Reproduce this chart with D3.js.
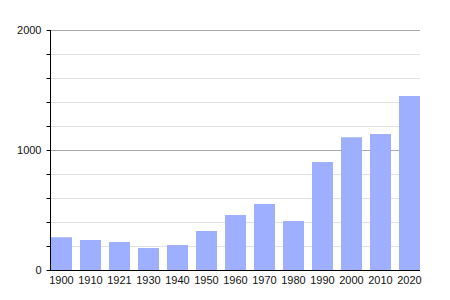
<!DOCTYPE html>
<html>
<head>
<meta charset="utf-8">
<script src="https://cdn.jsdelivr.net/npm/d3@7"></script>
<style>
	body { margin: 0; background: #fff; }
	svg { display: block; font-family: "Liberation Sans", Arial, sans-serif; }
</style>
</head>
<body>
<svg id="chart"></svg>
<script>
const years = ["1900", "1910", "1921", "1930", "1940", "1950", "1960", "1970", "1980", "1990", "2000", "2010", "2020"];
const population = [273, 250, 233, 183, 208, 325, 458, 550, 408, 900, 1106, 1133, 1450];
const majorTicks = [0, 1000, 2000];
const minorTicks = [200, 400, 600, 800, 1200, 1400, 1600, 1800];

const width = 450;
const height = 300;
const plotLeft = 50;
const plotRight = 420;
const plotTop = 30;
const plotBottom = 270;

const svg = d3.select("#chart")
	.attr("width", width)
	.attr("height", height);

const x = d3.scaleBand()
	.domain(years)
	.range([plotLeft + 1, plotRight])
	.paddingInner(0.276)
	.paddingOuter(0);

const y = d3.scaleLinear()
	.domain([0, 2000])
	.range([plotBottom, plotTop]);

// grid
svg.append("g")
	.selectAll("line")
	.data(minorTicks)
	.join("line")
	.attr("x1", plotLeft)
	.attr("x2", plotRight)
	.attr("y1", d => y(d) + 0.5)
	.attr("y2", d => y(d) + 0.5)
	.attr("stroke", "#e2e2e2");

svg.append("g")
	.selectAll("line")
	.data(majorTicks.filter(d => d > 0))
	.join("line")
	.attr("x1", plotLeft)
	.attr("x2", plotRight)
	.attr("y1", d => y(d) + 0.5)
	.attr("y2", d => y(d) + 0.5)
	.attr("stroke", "#aaaaaa");

// bars
svg.append("g")
	.selectAll("rect")
	.data(population)
	.join("rect")
	.attr("x", (d, i) => x(years[i]))
	.attr("y", d => y(d))
	.attr("width", x.bandwidth())
	.attr("height", d => plotBottom - y(d))
	.attr("fill", "#9eafff");

// y axis
const yAxis = svg.append("g")
	.attr("transform", `translate(${plotLeft + 0.5},0)`)
	.call(d3.axisLeft(y)
		.tickValues(majorTicks.concat(minorTicks))
		.tickSize(4)
		.tickFormat(d => majorTicks.includes(d) ? d : ""));

yAxis.select(".domain").attr("stroke", "#000").attr("d", `M0,${plotTop}V${plotBottom}`);
yAxis.selectAll(".tick line").attr("stroke", "#000");
yAxis.selectAll(".tick text")
	.attr("x", -9)
	.attr("fill", "#111")
	.style("font-size", "11px")
	.style("font-family", "\"Liberation Sans\", Arial, sans-serif");

// x axis
svg.append("line")
	.attr("x1", plotLeft)
	.attr("x2", plotRight)
	.attr("y1", plotBottom + 0.5)
	.attr("y2", plotBottom + 0.5)
	.attr("stroke", "#000");

svg.append("g")
	.selectAll("text")
	.data(years)
	.join("text")
	.attr("x", d => x(d) + x.bandwidth() / 2)
	.attr("y", plotBottom + 14)
	.attr("text-anchor", "middle")
	.attr("fill", "#111")
	.style("font-size", "11px")
	.text(d => d);
</script>
</body>
</html>
